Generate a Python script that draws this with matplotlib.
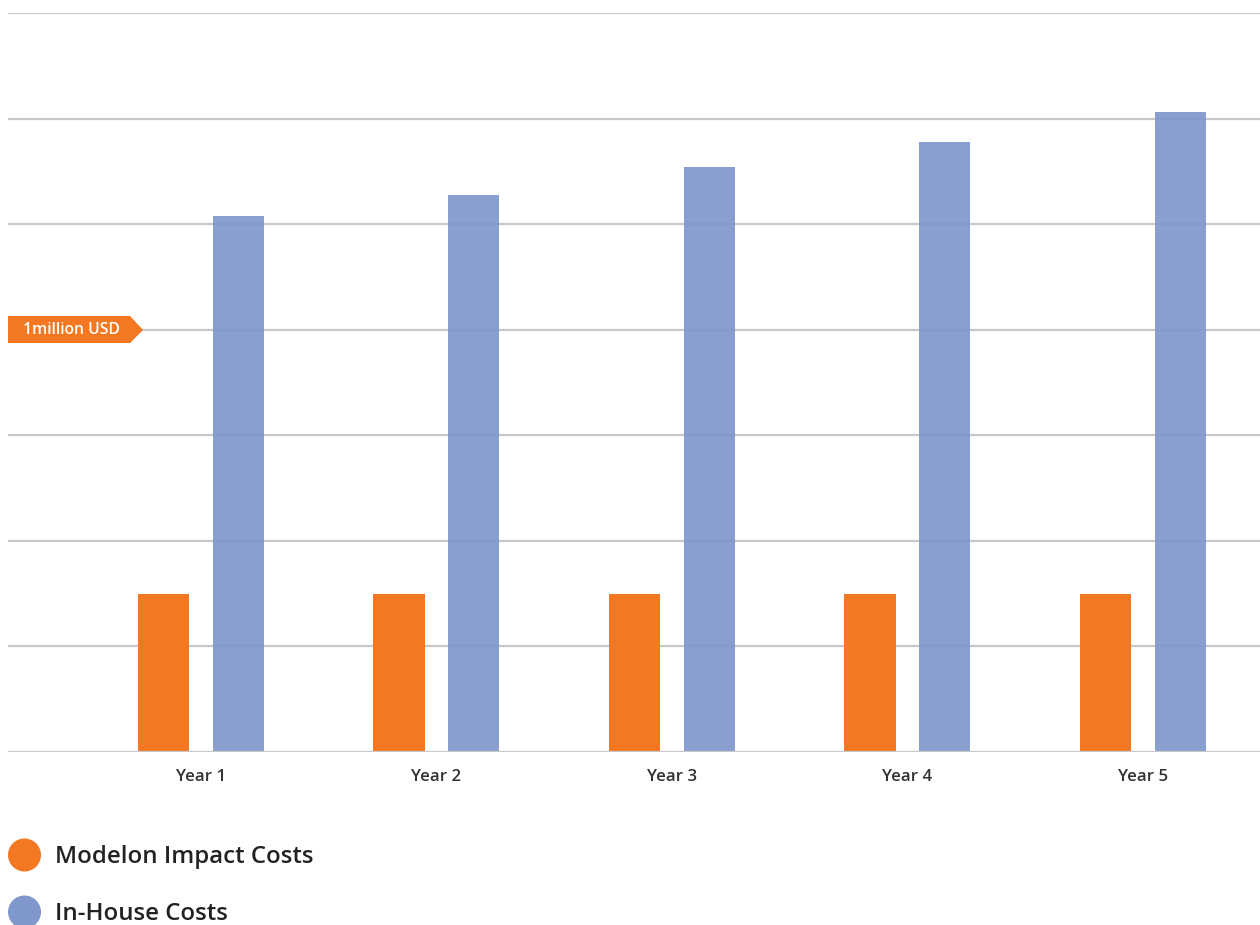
import numpy as np
import matplotlib
matplotlib.use('Agg')
import matplotlib.pyplot as plt
from matplotlib.patches import Polygon, Ellipse

plt.rcParams['font.family'] = ['Open Sans', 'DejaVu Sans']

years = ['Year 1', 'Year 2', 'Year 3', 'Year 4', 'Year 5']
modelon = [0.375, 0.375, 0.375, 0.375, 0.375]
inhouse = [1.27, 1.32, 1.385, 1.445, 1.515]
grid_vals = [0, 0.25, 0.5, 0.75, 1.0, 1.25, 1.5, 1.75]

orange = '#f47721'
blue = '#7f97cb'

W, H = 1260, 925
fig = plt.figure(figsize=(12.6, 9.25), dpi=100)
ax = fig.add_axes([8/W, 173/H, 1 - 8/W, 739/H])

x = np.arange(len(years))
w = 0.217
ax.bar(x - 0.159, modelon, w, color=orange, zorder=3)
ax.bar(x + 0.159, inhouse, w, color=blue, alpha=0.92, zorder=3)

for g in grid_vals:
    ax.axhline(g, color='#c8c8c8', lw=1.6, zorder=1 if g > 0 else 4)

ax.set_xlim(-0.8195, 4.497)
ax.set_ylim(0, 1.75)
ax.set_xticks(x)
ax.set_xticklabels(years, fontsize=12.2, fontweight='semibold', color='#333333')
ax.tick_params(axis='x', length=0, pad=12)
ax.set_yticks([])
for s in ax.spines.values():
    s.set_visible(False)

# "1million USD" arrow label
pts = [(8, H - 316), (130, H - 316), (143, H - 330), (130, H - 343), (8, H - 343)]
pts = [(px / W, py / H) for px, py in pts]
fig.patches.append(Polygon(pts, closed=True, transform=fig.transFigure,
                           facecolor=orange, edgecolor='none', zorder=5))
fig.text(71 / W, 1 - 330 / H, '1million USD', color='white', fontsize=11.3,
         fontweight='semibold', ha='center', va='center', zorder=6)

# legend
for label, col, yy in [('Modelon Impact Costs', orange, 855), ('In-House Costs', blue, 912)]:
    fig.patches.append(Ellipse((24.5 / W, 1 - yy / H), 33 / W, 33 / H,
                               transform=fig.transFigure, facecolor=col,
                               edgecolor='none'))
    fig.text(55 / W, 1 - (yy + 2) / H, label, fontsize=17.3, fontweight='semibold',
             color='#222222', ha='left', va='center')

fig.savefig('out.png', dpi=100)
